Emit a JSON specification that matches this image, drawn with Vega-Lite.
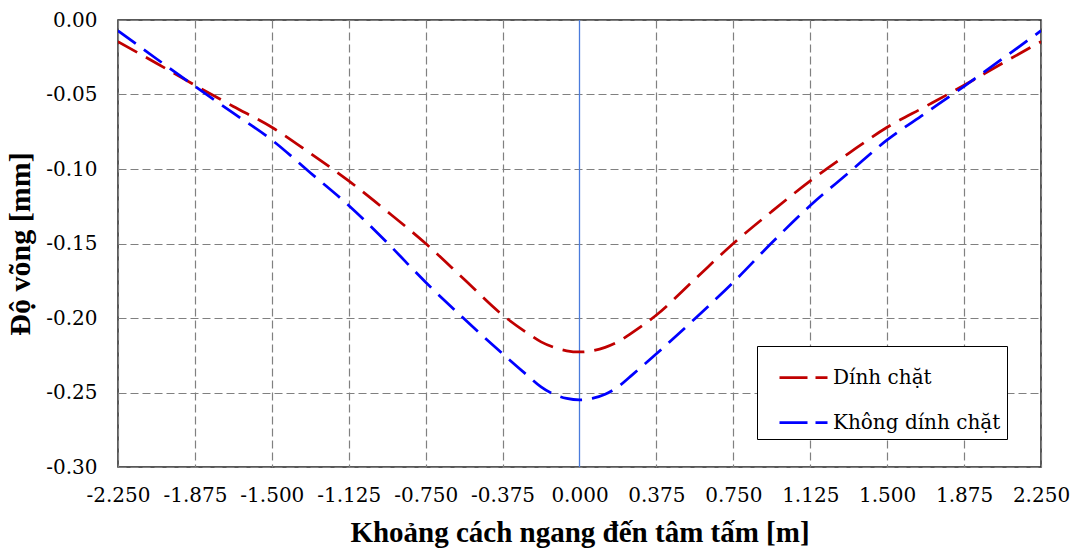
{
  "$schema": "https://vega.github.io/schema/vega-lite/v6.json",
  "width": 923,
  "height": 447,
  "autosize": "none",
  "padding": {"left": 118, "top": 20, "right": 34, "bottom": 84},
  "background": "white",
  "config": {
    "font": "Liberation Serif",
    "view": {"stroke": "#222", "strokeWidth": 1.5},
    "axis": {
      "labelColor": "#000",
      "titleColor": "#000",
      "domain": false,
      "ticks": false,
      "labelFlush": false,
      "gridDash": [8, 4],
      "gridWidth": 1.2,
      "gridOpacity": 1
    },
    "legend": {
      "labelColor": "#000"
    }
  },
  "datasets": {
    "curves": [
      {"x": -2.25, "y": -0.0145, "series": "Dính chặt"},
      {"x": -2.0625, "y": -0.029, "series": "Dính chặt"},
      {"x": -1.875, "y": -0.0438, "series": "Dính chặt"},
      {"x": -1.6875, "y": -0.058, "series": "Dính chặt"},
      {"x": -1.5, "y": -0.072, "series": "Dính chặt"},
      {"x": -1.3125, "y": -0.0895, "series": "Dính chặt"},
      {"x": -1.125, "y": -0.108, "series": "Dính chặt"},
      {"x": -0.9375, "y": -0.1285, "series": "Dính chặt"},
      {"x": -0.75, "y": -0.15, "series": "Dính chặt"},
      {"x": -0.5625, "y": -0.174, "series": "Dính chặt"},
      {"x": -0.375, "y": -0.198, "series": "Dính chặt"},
      {"x": -0.25, "y": -0.2105, "series": "Dính chặt"},
      {"x": -0.1875, "y": -0.216, "series": "Dính chặt"},
      {"x": -0.125, "y": -0.2197, "series": "Dính chặt"},
      {"x": -0.0625, "y": -0.222, "series": "Dính chặt"},
      {"x": 0, "y": -0.2228, "series": "Dính chặt"},
      {"x": 0.0625, "y": -0.222, "series": "Dính chặt"},
      {"x": 0.125, "y": -0.2197, "series": "Dính chặt"},
      {"x": 0.1875, "y": -0.216, "series": "Dính chặt"},
      {"x": 0.25, "y": -0.2105, "series": "Dính chặt"},
      {"x": 0.375, "y": -0.198, "series": "Dính chặt"},
      {"x": 0.5625, "y": -0.174, "series": "Dính chặt"},
      {"x": 0.75, "y": -0.15, "series": "Dính chặt"},
      {"x": 0.9375, "y": -0.1285, "series": "Dính chặt"},
      {"x": 1.125, "y": -0.108, "series": "Dính chặt"},
      {"x": 1.3125, "y": -0.0895, "series": "Dính chặt"},
      {"x": 1.5, "y": -0.072, "series": "Dính chặt"},
      {"x": 1.6875, "y": -0.058, "series": "Dính chặt"},
      {"x": 1.875, "y": -0.0438, "series": "Dính chặt"},
      {"x": 2.0625, "y": -0.029, "series": "Dính chặt"},
      {"x": 2.25, "y": -0.0145, "series": "Dính chặt"},
      {"x": -2.25, "y": -0.0072, "series": "Không dính chặt"},
      {"x": -2.0625, "y": -0.026, "series": "Không dính chặt"},
      {"x": -1.875, "y": -0.0445, "series": "Không dính chặt"},
      {"x": -1.6875, "y": -0.0625, "series": "Không dính chặt"},
      {"x": -1.5, "y": -0.0805, "series": "Không dính chặt"},
      {"x": -1.3125, "y": -0.1025, "series": "Không dính chặt"},
      {"x": -1.125, "y": -0.1245, "series": "Không dính chặt"},
      {"x": -0.9375, "y": -0.1495, "series": "Không dính chặt"},
      {"x": -0.75, "y": -0.176, "series": "Không dính chặt"},
      {"x": -0.5625, "y": -0.2005, "series": "Không dính chặt"},
      {"x": -0.375, "y": -0.224, "series": "Không dính chặt"},
      {"x": -0.25, "y": -0.239, "series": "Không dính chặt"},
      {"x": -0.1875, "y": -0.2462, "series": "Không dính chặt"},
      {"x": -0.125, "y": -0.2512, "series": "Không dính chặt"},
      {"x": -0.0625, "y": -0.254, "series": "Không dính chặt"},
      {"x": 0, "y": -0.255, "series": "Không dính chặt"},
      {"x": 0.0625, "y": -0.254, "series": "Không dính chặt"},
      {"x": 0.125, "y": -0.2512, "series": "Không dính chặt"},
      {"x": 0.1875, "y": -0.2462, "series": "Không dính chặt"},
      {"x": 0.25, "y": -0.239, "series": "Không dính chặt"},
      {"x": 0.375, "y": -0.224, "series": "Không dính chặt"},
      {"x": 0.5625, "y": -0.2005, "series": "Không dính chặt"},
      {"x": 0.75, "y": -0.176, "series": "Không dính chặt"},
      {"x": 0.9375, "y": -0.1495, "series": "Không dính chặt"},
      {"x": 1.125, "y": -0.1245, "series": "Không dính chặt"},
      {"x": 1.3125, "y": -0.1025, "series": "Không dính chặt"},
      {"x": 1.5, "y": -0.0805, "series": "Không dính chặt"},
      {"x": 1.6875, "y": -0.0625, "series": "Không dính chặt"},
      {"x": 1.875, "y": -0.0445, "series": "Không dính chặt"},
      {"x": 2.0625, "y": -0.026, "series": "Không dính chặt"},
      {"x": 2.25, "y": -0.0072, "series": "Không dính chặt"}
    ],
    "center": [{"x": 0}]
  },
  "layer": [
    {
      "data": {"name": "center"},
      "mark": {"type": "rule", "color": "#4A7BDC", "strokeWidth": 1.3},
      "encoding": {
        "x": {"field": "x", "type": "quantitative", "scale": {"domain": [-2.25, 2.25], "nice": false}}
      }
    },
    {
      "data": {"name": "curves"},
      "mark": {"type": "line", "interpolate": "monotone", "strokeWidth": 2.75, "strokeDash": [22, 10], "clip": true},
      "encoding": {
        "x": {
          "field": "x",
          "type": "quantitative",
          "scale": {"domain": [-2.25, 2.25], "nice": false, "zero": false},
          "axis": {
            "values": [-2.25, -1.875, -1.5, -1.125, -0.75, -0.375, 0, 0.375, 0.75, 1.125, 1.5, 1.875, 2.25],
            "labelExpr": "datum.value < 0 ? '-' + format(-datum.value, '.3f') : format(datum.value, '.3f')",
            "labelFont": "DejaVu Serif",
            "labelFontSize": 20,
            "labelFlush": false,
            "labelOverlap": false,
            "labelPadding": 18,
            "gridColor": {"condition": {"test": "datum.value === 0", "value": "transparent"}, "value": "#808080"},
            "title": "Khoảng cách ngang đến tâm tấm [m]",
            "titleFont": "Liberation Serif",
            "titleFontSize": 29,
            "titleFontWeight": "bold",
            "titlePadding": 13
          }
        },
        "y": {
          "field": "y",
          "type": "quantitative",
          "scale": {"domain": [-0.3, 0], "nice": false, "zero": false},
          "axis": {
            "values": [-0.3, -0.25, -0.2, -0.15, -0.1, -0.05, 0],
            "labelExpr": "datum.value < 0 ? '-' + format(-datum.value, '.2f') : format(datum.value, '.2f')",
            "labelFont": "DejaVu Serif",
            "labelFontSize": 20,
            "labelFlush": false,
            "labelPadding": 21,
            "gridColor": "#808080",
            "title": "Độ võng [mm]",
            "titleFont": "Liberation Serif",
            "titleFontSize": 30,
            "titleFontWeight": "bold",
            "titlePadding": 10
          }
        },
        "color": {
          "field": "series",
          "type": "nominal",
          "scale": {"domain": ["Dính chặt", "Không dính chặt"], "range": ["#C00000", "#0000FF"]},
          "legend": {
            "title": null,
            "orient": "none",
            "legendX": 639,
            "legendY": 326,
            "fillColor": "white",
            "strokeColor": "#000",
            "padding": 6,
            "symbolType": "stroke",
            "symbolSize": 2304,
            "symbolOffset": 15,
            "symbolStrokeWidth": 2.75,
            "symbolDash": [28, 8],
            "labelFont": "DejaVu Serif",
            "labelFontSize": 20,
            "labelLimit": 400,
            "rowPadding": 9,
            "labelOffset": 4
          }
        }
      }
    }
  ]
}
